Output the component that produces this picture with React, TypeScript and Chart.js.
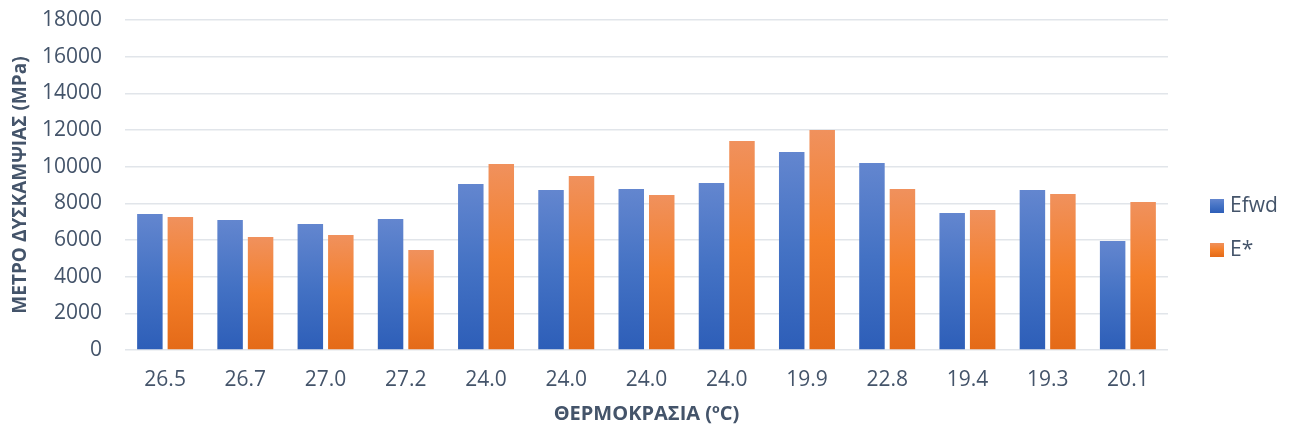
import React, { useEffect, useRef } from "react";
import { Chart, registerables } from "chart.js";

Chart.register(...registerables);

const categories = ["26.5", "26.7", "27.0", "27.2", "24.0", "24.0", "24.0", "24.0", "19.9", "22.8", "19.4", "19.3", "20.1"];
const efwdValues = [7420, 7090, 6870, 7150, 9050, 8730, 8780, 9110, 10800, 10200, 7470, 8730, 5950];
const eStarValues = [7250, 6160, 6270, 5450, 10150, 9490, 8450, 11400, 12000, 8780, 7640, 8510, 8070];
const seriesNames = ["Efwd", "E*"];
const yTitle = "ΜΕΤΡΟ ΔΥΣΚΑΜΨΙΑΣ (MPa)";
const xTitle = "ΘΕΡΜΟΚΡΑΣΙΑ (ºC)";

const TEXT = "#44546a";
const FONT = "'Open Sans', 'Noto Sans', sans-serif";
const BLUE = ["#6386cf", "#4472c4", "#2d5eb8"];
const ORANGE = ["#f0915d", "#f47f29", "#e46a18"];

function gradientFor(stops: string[]) {
  return (ctx: any) => {
    const chart = ctx.chart;
    if (!chart.chartArea || ctx.type !== "data") return stops[1];
    const y = chart.scales.y;
    const v = ctx.parsed ? ctx.parsed.y : ctx.raw;
    const top = y.getPixelForValue(v);
    const bot = y.getPixelForValue(0);
    if (!isFinite(top) || !isFinite(bot) || top === bot) return stops[1];
    const g = chart.ctx.createLinearGradient(0, top, 0, bot);
    g.addColorStop(0, stops[0]);
    g.addColorStop(0.5, stops[1]);
    g.addColorStop(1, stops[2]);
    return g;
  };
}

const legendPlugin = {
  id: "sideLegend",
  afterDraw(chart: any) {
    const c = chart.ctx;
    const sets = chart.data.datasets;
    const x = 1210;
    const y0 = 206;
    const gap = 44;
    const cols = [BLUE, ORANGE];
    c.save();
    c.font = `21px ${FONT}`;
    c.textBaseline = "middle";
    c.textAlign = "left";
    sets.forEach((ds: any, i: number) => {
      const cy = y0 + i * gap;
      const g = c.createLinearGradient(0, cy - 7, 0, cy + 7);
      g.addColorStop(0, cols[i][0]);
      g.addColorStop(0.5, cols[i][1]);
      g.addColorStop(1, cols[i][2]);
      c.fillStyle = g;
      c.fillRect(x, cy - 7, 14, 14);
      c.fillStyle = TEXT;
      c.fillText(ds.label, x + 20, cy);
    });
    c.restore();
  },
};

export default function App() {
  const ref = useRef<HTMLCanvasElement | null>(null);
  useEffect(() => {
    if (!ref.current) return;
    const chart = new Chart(ref.current, {
      type: "bar",
      data: {
        labels: categories,
        datasets: [
          { label: seriesNames[0], data: efwdValues, backgroundColor: gradientFor(BLUE) as any, borderWidth: 0 },
          { label: seriesNames[1], data: eStarValues, backgroundColor: gradientFor(ORANGE) as any, borderWidth: 0 },
        ],
      },
      options: {
        animation: false,
        responsive: false,
        devicePixelRatio: 1,
        layout: { padding: { top: 20, right: 126, left: 0, bottom: 0 } },
        datasets: { bar: { categoryPercentage: 0.76, barPercentage: 0.836 } },
        plugins: { legend: { display: false }, tooltip: { enabled: false } },
        scales: {
          x: {
            grid: { display: false, drawTicks: false },
            border: { display: false },
            ticks: { color: TEXT, font: { family: FONT, size: 21 }, padding: 17, maxRotation: 0, autoSkip: false },
            title: { display: true, text: xTitle, color: TEXT, font: { family: FONT, size: 20, weight: "bold" }, padding: { top: 0, bottom: 6 } },
            afterFit: (s: any) => { s.height = 82; s.paddingLeft = 0; s.paddingRight = 0; },
          },
          y: {
            min: 0,
            max: 18000,
            grid: { color: "#e1e5ea", lineWidth: 1.5, drawTicks: false },
            border: { display: false },
            ticks: { stepSize: 2000, color: TEXT, font: { family: FONT, size: 21 }, padding: 23, callback: (v: any) => String(v) },
            title: { display: true, text: yTitle, color: TEXT, font: { family: FONT, size: 19, weight: "bold" }, padding: { top: 9, bottom: 0 } },
            afterFit: (s: any) => { s.width = 125; s.paddingTop = 0; s.paddingBottom = 0; },
          },
        },
      },
      plugins: [legendPlugin],
    });
    return () => chart.destroy();
  }, []);
  return (
    <div style={{ position: "absolute", left: 0, top: 0, width: 1294, height: 432 }}>
      <canvas ref={ref} width={1294} height={432} style={{ display: "block" }} />
    </div>
  );
}
